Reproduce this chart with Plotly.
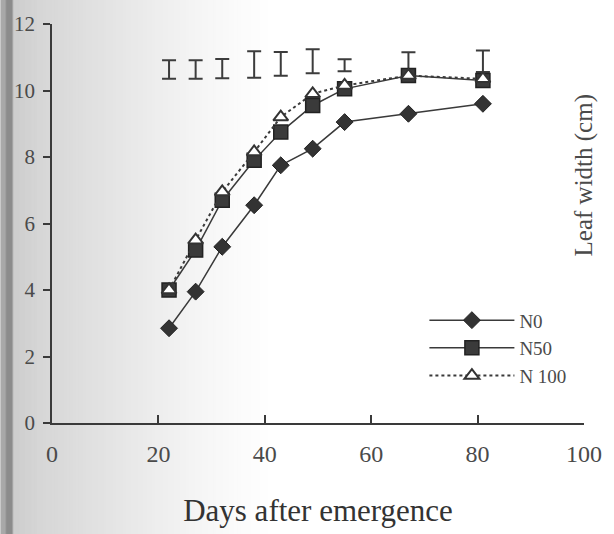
import plotly.graph_objects as go

# ---- data ----
days = [22, 27, 32, 38, 43, 49, 55, 67, 81]
n0 = [2.85, 3.95, 5.3, 6.55, 7.75, 8.25, 9.05, 9.3, 9.6]
n50 = [4.0, 5.2, 6.7, 7.9, 8.75, 9.55, 10.05, 10.45, 10.3]
n100 = [4.0, 5.5, 6.95, 8.15, 9.2, 9.9, 10.15, 10.45, 10.35]
bar_days = [22, 27, 32, 38, 43, 49, 55, 67, 81]
bar_mid = [10.63, 10.63, 10.66, 10.78, 10.8, 10.88, 10.76, 10.85, 10.88]
bar_err = [0.28, 0.28, 0.29, 0.4, 0.36, 0.36, 0.18, 0.3, 0.32]
x_ticks = [0, 20, 40, 60, 80, 100]
y_ticks = [0, 2, 4, 6, 8, 10, 12]

W, H = 614, 534
ML, MR, MT, MB = 52, 26, 17, 109
PW = W - ML - MR

FONT = "Liberation Serif"
TXT = "#4a4a4a"

fig = go.Figure()

fig.add_trace(go.Scatter(
    x=bar_days, y=bar_mid, mode="markers", showlegend=False, hoverinfo="skip",
    marker=dict(size=1, opacity=0),
    error_y=dict(type="data", array=bar_err, visible=True, color="#3c3c3c", thickness=2, width=7),
))

fig.add_trace(go.Scatter(
    x=days, y=n0, name="N0", mode="lines+markers",
    line=dict(color="#3a3a3a", width=1.5),
    marker=dict(symbol="diamond", size=13, color="#333333", line=dict(color="#222", width=1)),
))
fig.add_trace(go.Scatter(
    x=days, y=n50, name="N50", mode="lines+markers",
    line=dict(color="#3a3a3a", width=1.5),
    marker=dict(symbol="square", size=14, color="#3a3a3a", line=dict(color="#222", width=1.5)),
))
fig.add_trace(go.Scatter(
    x=days, y=n100, name="N 100", mode="lines+markers",
    line=dict(color="#3a3a3a", width=2, dash="dot"),
    marker=dict(symbol="triangle-up", size=13, color="white", line=dict(color="#333", width=2)),
))

# scanned-page shading on the left edge (style only)
def px2paper(px):
    return (px - ML) / PW

ctrl = [(0, 170), (5, 168), (6, 140), (12, 140), (13, 205), (40, 214), (80, 222),
        (120, 230), (160, 238), (200, 245), (240, 251), (275, 255)]
shapes = []
for i in range(len(ctrl) - 1):
    (a, ga), (b, gb) = ctrl[i], ctrl[i + 1]
    step = 3
    p = a
    while p < b:
        q = min(p + step, b)
        g = round(ga + (gb - ga) * ((p + q) / 2 - a) / (b - a))
        shapes.append(dict(type="rect", xref="paper", yref="paper", x0=px2paper(p), x1=px2paper(q) + 0.002,
                           y0=-1, y1=2, fillcolor=f"rgb({g},{g},{g})", line=dict(width=0), layer="below"))
        p = q

fig.update_layout(
    width=W, height=H,
    margin=dict(l=ML, r=MR, t=MT, b=MB),
    paper_bgcolor="white", plot_bgcolor="rgba(0,0,0,0)",
    font=dict(family=FONT, color=TXT),
    shapes=shapes,
    showlegend=True,
    legend=dict(x=0.70, y=0.305, xanchor="left", yanchor="top", bgcolor="rgba(0,0,0,0)",
                font=dict(family=FONT, size=19, color=TXT), itemwidth=85, tracegroupgap=0),
    annotations=[dict(text="Leaf width (cm)", xref="paper", yref="paper",
                      x=1 + (604 - 588) / PW, y=(425 - 172) / (H - MT - MB), textangle=-90,
                      showarrow=False, font=dict(family=FONT, size=25, color=TXT))],
)
fig.update_xaxes(range=[0, 100], tickvals=x_ticks, showgrid=False, zeroline=False,
                 showline=True, linecolor="#3a3a3a", linewidth=1.6,
                 ticks="inside", ticklen=8, tickcolor="#3a3a3a", tickwidth=1.5,
                 tickfont=dict(family=FONT, size=24, color=TXT), ticklabelstandoff=8,
                 title=dict(text="Days after emergence", standoff=34,
                            font=dict(family=FONT, size=31, color="#333")))
fig.update_yaxes(range=[0, 12], tickvals=y_ticks, showgrid=False, zeroline=False,
                 showline=True, linecolor="#3a3a3a", linewidth=1.6,
                 ticks="outside", ticklen=7, tickcolor="#3a3a3a", tickwidth=1.5,
                 tickfont=dict(family=FONT, size=21, color=TXT), ticklabelstandoff=4)

fig.write_html("out.html")
